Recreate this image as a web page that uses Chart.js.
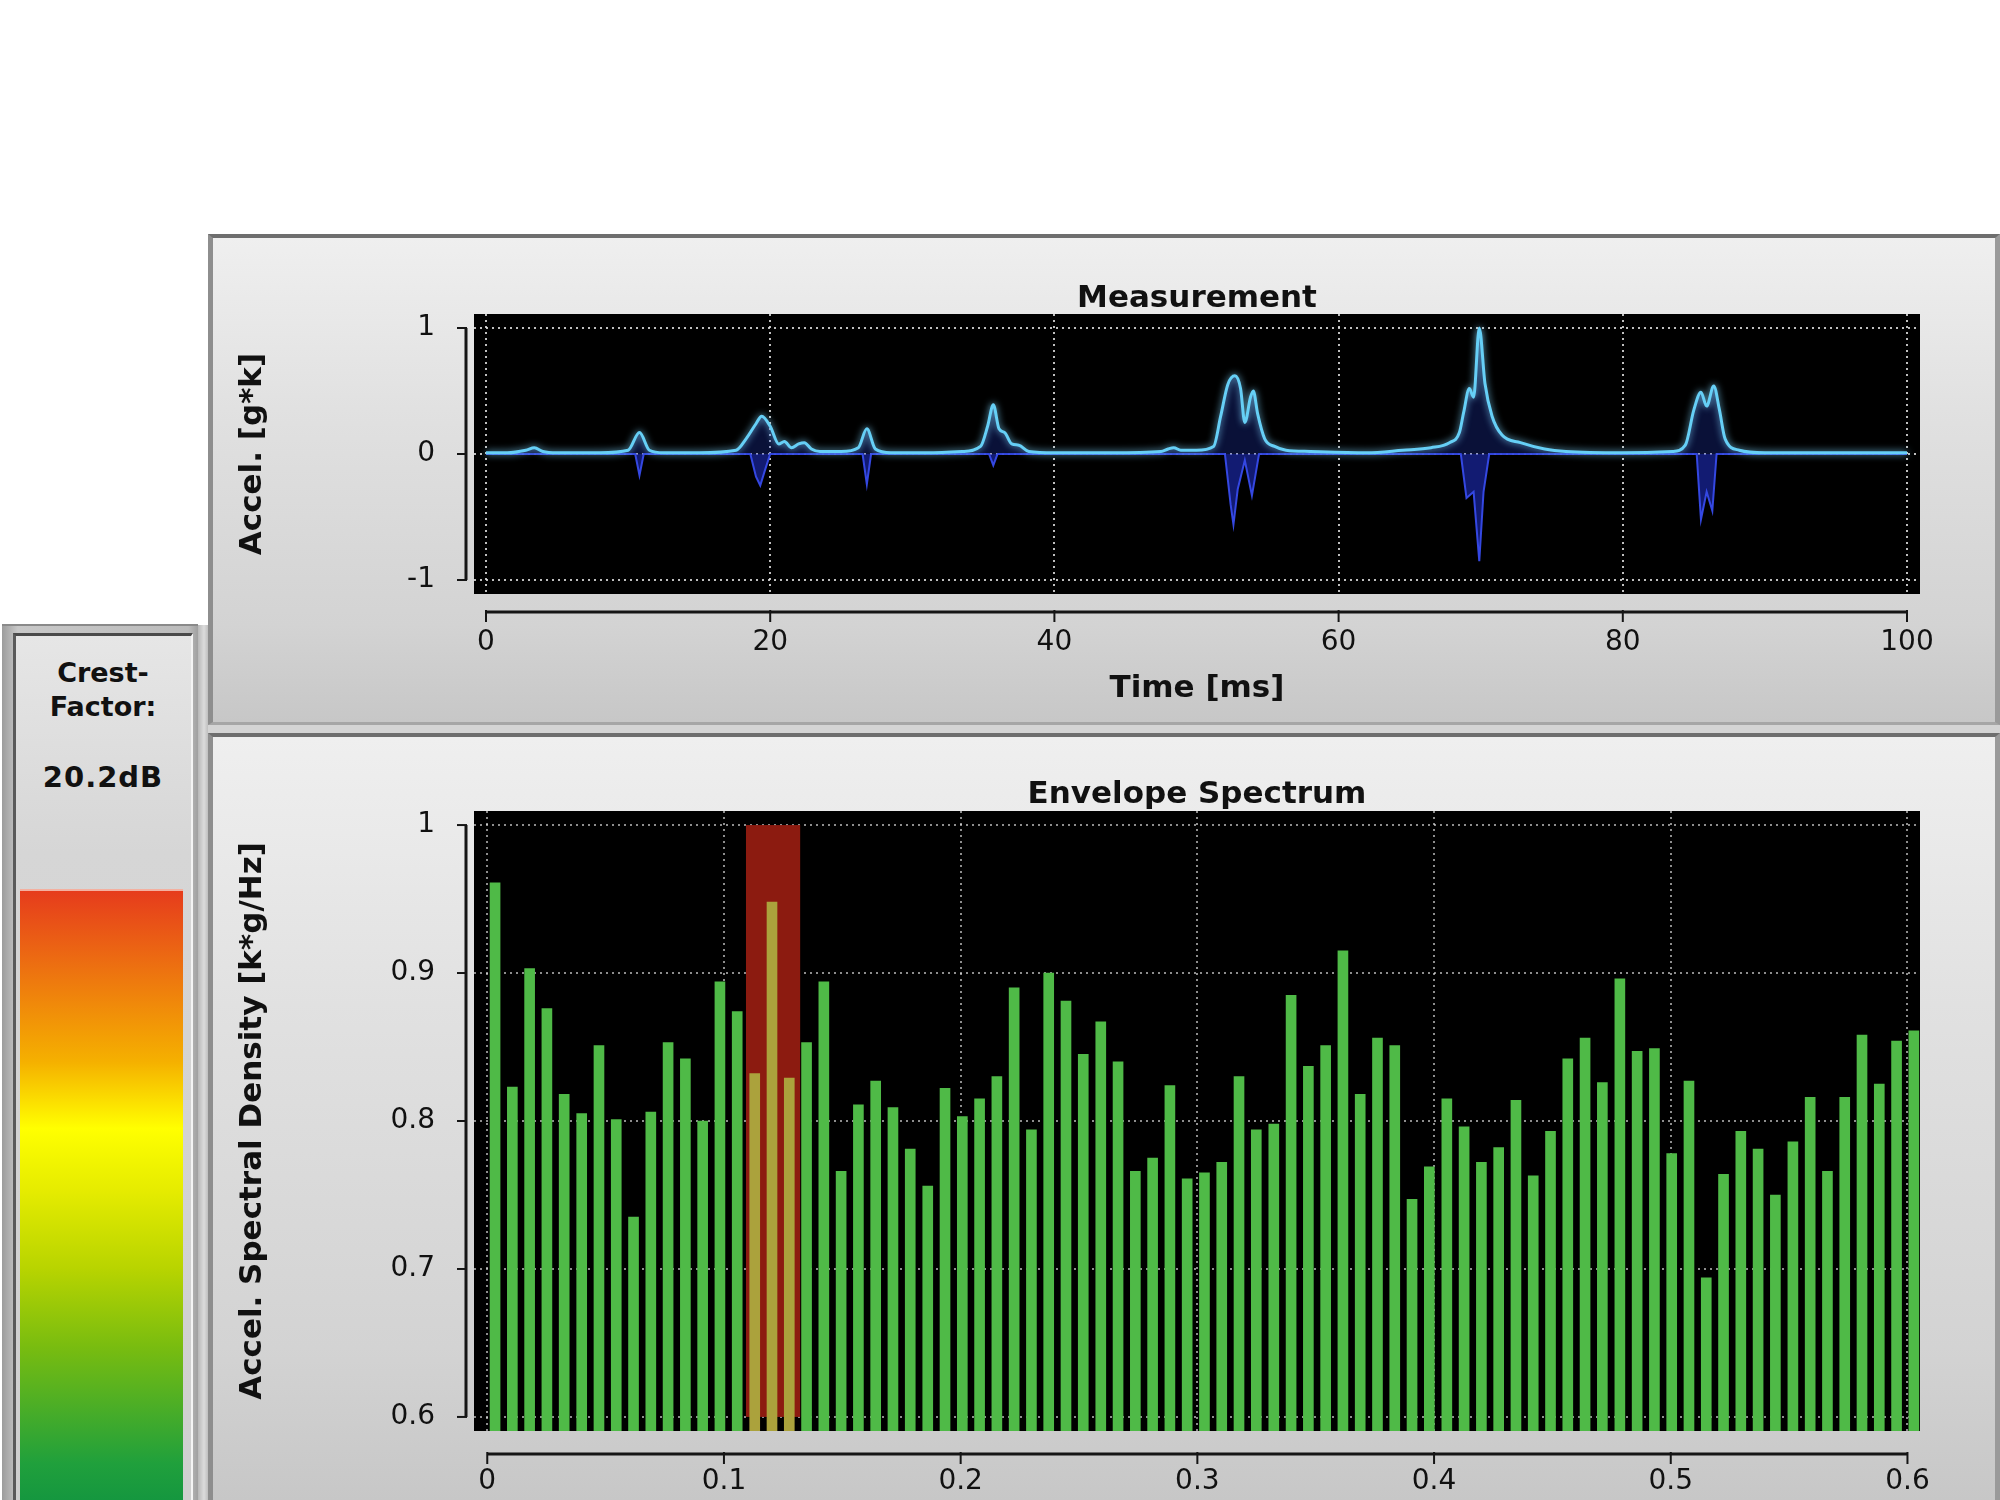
<!DOCTYPE html>
<html>
<head>
<meta charset="utf-8">
<title>Measurement / Envelope Spectrum</title>
<script src="https://cdn.jsdelivr.net/npm/chart.js@4.4.1/dist/chart.umd.min.js"></script>
<style>
  html, body { margin: 0; padding: 0; background: #fff; }
  body { width: 2000px; height: 1500px; position: relative; overflow: hidden;
         font-family: "DejaVu Sans", Verdana, sans-serif; color: #111; }
  .abs { position: absolute; box-sizing: border-box; }
  .panel { border-top: 4px solid #6e6e6e; border-left: 5px solid #8e8e8e;
           border-right: 5px solid #9a9a9a; border-bottom: 3px solid #a6a6a6;
           background: linear-gradient(180deg, #efefef 0%, #e1e1e1 35%, #d3d3d3 80%, #c7c7c7 100%); }
  canvas { position: absolute; }
  .crestTxt { text-align: center; font-weight: bold; color: #111; }
</style>
</head>
<body>

<!-- crest factor gauge -->
<div class="abs" style="left:198px;top:625px;width:12px;height:875px;background:linear-gradient(90deg,#b8b8b8,#dcdcdc,#b0b0b0)"></div>
<div class="abs" style="left:2px;top:624px;width:196px;height:876px;background:linear-gradient(90deg,#9c9c9c,#c8c8c8 8%,#bcbcbc 95%,#a0a0a0);border-top:2px solid #8a8a8a"></div>
<div class="abs" style="left:13px;top:633px;width:180px;height:867px;background:linear-gradient(180deg,#e6e6e6,#d6d6d6 25%,#cfcfcf);border-top:3px solid #4a4a4a;border-left:3px solid #5a5a5a;border-right:2px solid #f4f4f4"></div>
<div class="abs crestTxt" style="left:14px;top:656px;width:178px;font-size:27px;line-height:34px">Crest-<br>Factor:</div>
<div class="abs crestTxt" style="left:14px;top:757px;width:178px;font-size:29px;line-height:40px;letter-spacing:1px">20.2dB</div>
<div class="abs" style="left:20px;top:889px;width:163px;height:611px;border-top:2px solid #f3b0a0;
  background:linear-gradient(180deg,#e63c1c 0%,#ec6a12 11%,#f5b000 28%,#ffff00 39%,#e6ec00 49%,#b8d400 62%,#78bc10 75%,#20a03c 94%,#15973f 100%)"></div>

<!-- main panels -->
<div class="abs panel" style="left:208px;top:234px;width:1792px;height:491px"></div>
<div class="abs" style="left:208px;top:725px;width:1792px;height:9px;background:#d4d4d4"></div>
<div class="abs panel" style="left:208px;top:733px;width:1792px;height:770px"></div>

<canvas id="measurement" width="1792" height="486" style="left:208px;top:237px"></canvas>
<canvas id="spectrum" width="1792" height="764" style="left:208px;top:736px"></canvas>

<script>
// ---- Measurement: time signal (ms, g*k) ----
const posTime = [0, 1.5, 2.8, 3.4, 4.0, 5.0, 8.0, 10.0, 10.8, 11.5, 12.5, 15.0, 17.6, 18.3, 19.0,
  19.4, 20.0, 20.6, 21.0, 21.5, 22.0, 22.4, 22.9, 23.5, 25.0, 26.2, 26.8, 27.4, 28.5, 31.0,
  33.5, 34.8, 35.3, 35.7, 36.1, 36.5, 37.0, 37.5, 38.2, 40.0, 44.0, 47.5, 48.0, 48.4, 48.9,
  50.0, 51.2, 51.7, 52.2, 52.7, 53.1, 53.4, 53.8, 54.0, 54.3, 54.8, 55.5, 56.3, 58.0, 62.0,
  64.5, 66.5, 67.8, 68.5, 68.8, 69.2, 69.5, 69.9, 70.3, 70.8, 71.5, 72.8, 74.5, 76.0, 80.0,
  83.5, 84.4, 85.0, 85.5, 85.9, 86.4, 86.8, 87.2, 88.2, 90.0, 94.0, 97.0, 100.0];
const posValue = [0.01, 0.01, 0.03, 0.05, 0.02, 0.01, 0.01, 0.03, 0.17, 0.03, 0.01, 0.01, 0.03, 0.12, 0.24,
  0.30, 0.22, 0.08, 0.10, 0.05, 0.08, 0.09, 0.04, 0.02, 0.02, 0.05, 0.20, 0.04, 0.01, 0.01,
  0.02, 0.06, 0.22, 0.39, 0.20, 0.17, 0.08, 0.07, 0.02, 0.01, 0.01, 0.02, 0.04, 0.05, 0.03,
  0.03, 0.06, 0.30, 0.55, 0.62, 0.52, 0.25, 0.45, 0.50, 0.32, 0.12, 0.06, 0.03, 0.02, 0.01,
  0.03, 0.05, 0.09, 0.17, 0.33, 0.52, 0.45, 1.00, 0.56, 0.30, 0.15, 0.09, 0.04, 0.02, 0.01,
  0.02, 0.07, 0.35, 0.49, 0.38, 0.54, 0.35, 0.12, 0.03, 0.01, 0.01, 0.01, 0.01];
const negTime = [0, 10.5, 10.8, 11.1, 18.6, 19.0, 19.3, 19.6, 20.0, 26.5, 26.8, 27.1, 35.4, 35.7, 36.0,
  52.0, 52.4, 52.6, 52.9, 53.4, 53.9, 54.1, 54.4, 68.6, 69.0, 69.5, 69.9, 70.2, 70.6,
  85.2, 85.5, 85.9, 86.3, 86.6, 100];
const negValue = [0, 0, -0.17, 0, 0, -0.18, -0.25, -0.14, 0, 0, -0.24, 0, 0, -0.09, 0,
  0, -0.40, -0.56, -0.28, -0.05, -0.33, -0.20, 0, 0, -0.35, -0.30, -0.85, -0.30, 0,
  0, -0.52, -0.30, -0.45, 0, 0];

// ---- Envelope spectrum (frequency bins, k*g/Hz) ----
const freqBins = [0.0033, 0.0106, 0.0179, 0.0252, 0.0325, 0.0399, 0.0472, 0.0545, 0.0618, 0.0691,
  0.0764, 0.0837, 0.0910, 0.0983, 0.1056, 0.1130, 0.1203, 0.1276, 0.1349, 0.1422,
  0.1495, 0.1568, 0.1641, 0.1714, 0.1787, 0.1861, 0.1934, 0.2007, 0.2080, 0.2153,
  0.2226, 0.2299, 0.2372, 0.2445, 0.2518, 0.2592, 0.2665, 0.2738, 0.2811, 0.2884,
  0.2957, 0.3030, 0.3103, 0.3176, 0.3249, 0.3323, 0.3396, 0.3469, 0.3542, 0.3615,
  0.3688, 0.3761, 0.3834, 0.3907, 0.3980, 0.4054, 0.4127, 0.4200, 0.4273, 0.4346,
  0.4419, 0.4492, 0.4565, 0.4638, 0.4711, 0.4785, 0.4858, 0.4931, 0.5004, 0.5077,
  0.5150, 0.5223, 0.5296, 0.5369, 0.5442, 0.5516, 0.5589, 0.5662, 0.5735, 0.5808,
  0.5881, 0.5954, 0.6027];
const density = [0.961, 0.823, 0.903, 0.876, 0.818, 0.805, 0.851, 0.801, 0.735, 0.806,
  0.853, 0.842, 0.800, 0.894, 0.874, 0.832, 0.948, 0.829, 0.853, 0.894,
  0.766, 0.811, 0.827, 0.809, 0.781, 0.756, 0.822, 0.803, 0.815, 0.830,
  0.890, 0.794, 0.900, 0.881, 0.845, 0.867, 0.840, 0.766, 0.775, 0.824,
  0.761, 0.765, 0.772, 0.830, 0.794, 0.798, 0.885, 0.837, 0.851, 0.915,
  0.818, 0.856, 0.851, 0.747, 0.769, 0.815, 0.796, 0.772, 0.782, 0.814,
  0.763, 0.793, 0.842, 0.856, 0.826, 0.896, 0.847, 0.849, 0.778, 0.827,
  0.694, 0.764, 0.793, 0.781, 0.750, 0.786, 0.816, 0.766, 0.816, 0.858,
  0.825, 0.854, 0.861];
// highlighted frequency band (red marker)
const markerBand = [0.1093, 0.1322];
const markerRange = [0.6, 1.0];

Chart.defaults.font.family = '"DejaVu Sans", Verdana, sans-serif';
Chart.defaults.color = '#111';

// black plotting area
const blackArea = {
  id: 'blackArea',
  beforeDraw(chart) {
    const {ctx, chartArea: a} = chart;
    ctx.save();
    ctx.fillStyle = '#000';
    ctx.fillRect(a.left, a.top, a.right - a.left, a.bottom - a.top);
    ctx.restore();
  }
};

// detached axis lines below / left of the plot
const axisLines = {
  id: 'axisLines',
  afterDraw(chart, args, opts) {
    const {ctx, chartArea, scales: {x, y}} = chart;
    const xt = x.ticks, yt = y.ticks;
    ctx.save();
    ctx.strokeStyle = '#151515';
    ctx.lineWidth = 3;
    const yb = chartArea.bottom + opts.gapX;
    ctx.beginPath();
    ctx.moveTo(x.getPixelForValue(xt[0].value), yb);
    ctx.lineTo(x.getPixelForValue(xt[xt.length - 1].value), yb);
    ctx.stroke();
    const xl = chartArea.left - opts.gapY;
    ctx.beginPath();
    ctx.moveTo(xl, y.getPixelForValue(yt[0].value));
    ctx.lineTo(xl, y.getPixelForValue(yt[yt.length - 1].value));
    ctx.stroke();
    ctx.lineWidth = 2;
    xt.forEach(t => {
      const px = x.getPixelForValue(t.value);
      ctx.beginPath(); ctx.moveTo(px, yb - 2); ctx.lineTo(px, yb + 10); ctx.stroke();
    });
    yt.forEach(t => {
      const py = y.getPixelForValue(t.value);
      ctx.beginPath(); ctx.moveTo(xl + 1, py); ctx.lineTo(xl - 9, py); ctx.stroke();
    });
    ctx.restore();
  }
};

// soft glow on the envelope line
const glow = {
  id: 'glow',
  beforeDatasetDraw(chart, args) {
    if (args.index !== 0) return;
    chart.ctx.save();
    chart.ctx.shadowColor = 'rgba(130,215,255,0.9)';
    chart.ctx.shadowBlur = 7;
  },
  afterDatasetDraw(chart, args) {
    if (args.index === 0) chart.ctx.restore();
  }
};

// red marker band behind the bars
const bandBox = {
  id: 'bandBox',
  beforeDatasetsDraw(chart) {
    const {ctx, scales: {x, y}} = chart;
    const x0 = x.getPixelForValue(markerBand[0]), x1 = x.getPixelForValue(markerBand[1]);
    const y0 = y.getPixelForValue(markerRange[1]), y1 = y.getPixelForValue(markerRange[0]);
    ctx.save();
    ctx.fillStyle = '#8c1b10';
    ctx.fillRect(x0, y0, x1 - x0, y1 - y0);
    ctx.restore();
  }
};

const tickFont = {size: 28};
const titleFont = {size: 31, weight: 'bold'};
const gridStyle = {color: 'rgba(225,225,225,0.85)', lineWidth: 2, drawTicks: false};
const plainNumber = v => String(+Number(v).toFixed(3));

new Chart(document.getElementById('measurement'), {
  type: 'line',
  data: {
    datasets: [
      {
        data: posTime.map((t, i) => ({x: t, y: posValue[i]})),
        borderColor: '#66cff6',
        borderWidth: 3,
        backgroundColor: 'rgba(35,60,200,0.28)',
        fill: 'origin',
        pointRadius: 0,
        cubicInterpolationMode: 'monotone'
      },
      {
        data: negTime.map((t, i) => ({x: t, y: negValue[i]})),
        borderColor: 'rgba(55,75,235,0.95)',
        borderWidth: 2,
        backgroundColor: 'rgba(30,45,190,0.6)',
        fill: 'origin',
        pointRadius: 0
      }
    ]
  },
  options: {
    responsive: false,
    animation: false,
    layout: {padding: {left: 0, right: 80, top: 0, bottom: 0}},
    plugins: {
      legend: {display: false},
      tooltip: {enabled: false},
      title: {display: true, fullSize: false, text: 'Measurement', color: '#111',
              font: {size: 31, weight: 'bold', lineHeight: 1}, padding: {top: 46, bottom: 0}},
      axisLines: {gapX: 18, gapY: 8}
    },
    scales: {
      x: {
        type: 'linear', min: -0.845, max: 100.915,
        ticks: {stepSize: 20, includeBounds: false, padding: 32, font: tickFont, maxRotation: 0, callback: plainNumber},
        grid: gridStyle,
        border: {display: false, dash: [2, 4]},
        title: {display: true, text: 'Time [ms]', font: titleFont, padding: {top: 0, bottom: 15}},
        afterFit(s) { s.height = 129; }
      },
      y: {
        min: -1.111, max: 1.111,
        ticks: {stepSize: 1, includeBounds: false, padding: 39, font: tickFont, callback: plainNumber},
        grid: gridStyle,
        border: {display: false, dash: [2, 4]},
        title: {display: true, text: 'Accel. [g*k]', font: titleFont, padding: {top: 26, bottom: 0}},
        afterFit(s) { s.width = 266; }
      }
    }
  },
  plugins: [blackArea, glow, axisLines]
});

new Chart(document.getElementById('spectrum'), {
  type: 'bar',
  data: {
    datasets: [{
      data: freqBins.map((f, i) => ({x: f, y: density[i]})),
      backgroundColor: freqBins.map(f => (f > markerBand[0] && f < markerBand[1]) ? '#aba23c' : '#4fba47'),
      barThickness: 10
    }]
  },
  options: {
    responsive: false,
    animation: false,
    layout: {padding: {left: 0, right: 80, top: 0, bottom: 0}},
    plugins: {
      legend: {display: false},
      tooltip: {enabled: false},
      title: {display: true, fullSize: false, text: 'Envelope Spectrum', color: '#111',
              font: {size: 31, weight: 'bold', lineHeight: 1}, padding: {top: 43, bottom: 1}},
      axisLines: {gapX: 23, gapY: 8}
    },
    scales: {
      x: {
        type: 'linear', min: -0.0056, max: 0.6053, offset: false, z: 1,
        ticks: {stepSize: 0.1, includeBounds: false, padding: 34, font: tickFont, maxRotation: 0, callback: plainNumber},
        grid: {color: 'rgba(235,235,235,0.6)', lineWidth: 2, drawTicks: false, offset: false},
        border: {display: false, dash: [2, 4]},
        afterFit(s) { s.height = 69; }
      },
      y: {
        min: 0.5905, max: 1.0095, z: 1,
        ticks: {stepSize: 0.1, includeBounds: false, padding: 39, font: tickFont, callback: plainNumber},
        grid: {color: 'rgba(235,235,235,0.6)', lineWidth: 2, drawTicks: false},
        border: {display: false, dash: [2, 4]},
        title: {display: true, text: 'Accel. Spectral Density [k*g/Hz]', font: titleFont, padding: {top: 26, bottom: 0}},
        afterFit(s) { s.width = 266; }
      }
    }
  },
  plugins: [blackArea, bandBox, axisLines]
});
</script>
</body>
</html>
